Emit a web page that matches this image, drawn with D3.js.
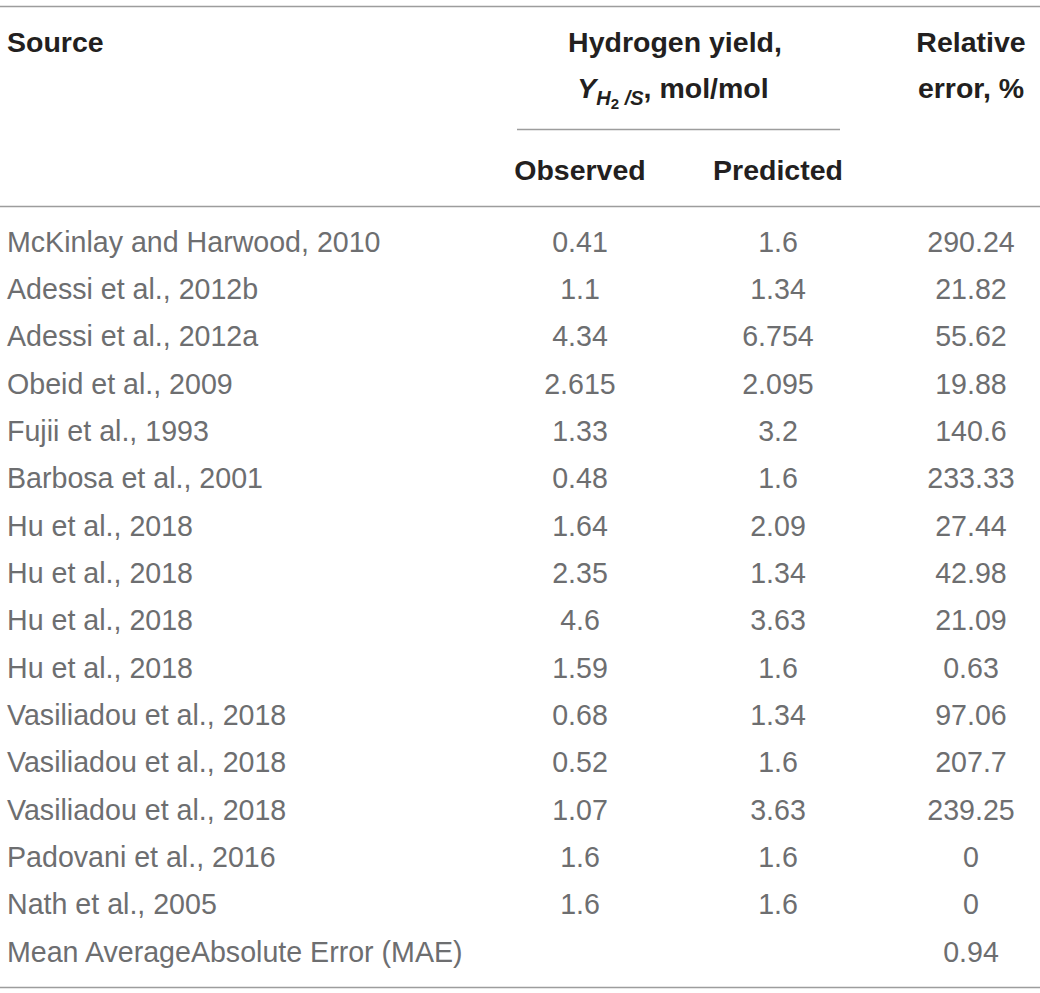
<!DOCTYPE html>
<html>
<head>
<meta charset="utf-8">
<style>
  body { margin: 0; background: #fff; }
  svg { display: block; }
  .hd { font-family: "Liberation Sans", Arial, sans-serif; font-weight: bold; fill: #231f20; font-size: 28.5px; }
  .bd { font-family: "Liberation Sans", Arial, sans-serif; fill: #6d6e70; font-size: 28.6px; }
</style>
</head>
<body>
<div id="chart"></div>
<script src="https://cdnjs.cloudflare.com/ajax/libs/d3/7.8.5/d3.min.js"></script>
<script>
var sources = [
  "McKinlay and Harwood, 2010", "Adessi et al., 2012b", "Adessi et al., 2012a",
  "Obeid et al., 2009", "Fujii et al., 1993", "Barbosa et al., 2001",
  "Hu et al., 2018", "Hu et al., 2018", "Hu et al., 2018", "Hu et al., 2018",
  "Vasiliadou et al., 2018", "Vasiliadou et al., 2018", "Vasiliadou et al., 2018",
  "Padovani et al., 2016", "Nath et al., 2005", "Mean AverageAbsolute Error (MAE)"
];
var observed = ["0.41", "1.1", "4.34", "2.615", "1.33", "0.48", "1.64", "2.35", "4.6", "1.59", "0.68", "0.52", "1.07", "1.6", "1.6", ""];
var predicted = ["1.6", "1.34", "6.754", "2.095", "3.2", "1.6", "2.09", "1.34", "3.63", "1.6", "1.34", "1.6", "3.63", "1.6", "1.6", ""];
var relError = ["290.24", "21.82", "55.62", "19.88", "140.6", "233.33", "27.44", "42.98", "21.09", "0.63", "97.06", "207.7", "239.25", "0", "0", "0.94"];

var W = 1040, H = 993;
var svg = d3.select("#chart").append("svg").attr("width", W).attr("height", H);

// column centres
var col = d3.scaleOrdinal()
  .domain(["observed", "predicted", "error"])
  .range([580, 778, 971]);

// row baselines
var y = d3.scaleLinear().domain([0, sources.length - 1]).range([251.5, 961.5]);

// rules
var rule = function(x1, x2, yy) {
  svg.append("line").attr("x1", x1).attr("x2", x2).attr("y1", yy).attr("y2", yy)
    .attr("stroke", "#9d9d9d").attr("stroke-width", 1.5);
};
rule(0, W, 6.5);
rule(517, 840, 129.5);
rule(0, W, 206.5);
rule(0, W, 987.5);

// header
svg.append("text").attr("class", "hd").attr("x", 7).attr("y", 52).text("Source");
svg.append("text").attr("class", "hd").attr("x", 675).attr("y", 52)
  .attr("text-anchor", "middle").text("Hydrogen yield,");
var yl = svg.append("text").attr("class", "hd").attr("x", 673).attr("y", 98)
  .attr("text-anchor", "middle");
yl.append("tspan").attr("font-style", "italic").text("Y");
yl.append("tspan").attr("font-style", "italic").attr("font-size", "20px").attr("dy", 7).text("H");
yl.append("tspan").attr("font-size", "15px").attr("dy", 4).text("2");
yl.append("tspan").attr("font-style", "italic").attr("font-size", "20px").attr("dy", -4).text(" /S");
yl.append("tspan").attr("dy", -7).text(", mol/mol");
svg.append("text").attr("class", "hd").attr("x", col("error")).attr("y", 52)
  .attr("text-anchor", "middle").text("Relative");
svg.append("text").attr("class", "hd").attr("x", col("error")).attr("y", 98)
  .attr("text-anchor", "middle").text("error, %");
svg.append("text").attr("class", "hd").attr("x", col("observed")).attr("y", 180)
  .attr("text-anchor", "middle").text("Observed");
svg.append("text").attr("class", "hd").attr("x", col("predicted")).attr("y", 180)
  .attr("text-anchor", "middle").text("Predicted");

// body
var rows = svg.selectAll("g.row").data(sources).enter().append("g").attr("class", "row")
  .attr("transform", function(d, i) { return "translate(0," + y(i) + ")"; });
rows.append("text").attr("class", "bd").attr("x", 7).text(function(d) { return d; });
rows.append("text").attr("class", "bd").attr("x", col("observed")).attr("text-anchor", "middle")
  .text(function(d, i) { return observed[i]; });
rows.append("text").attr("class", "bd").attr("x", col("predicted")).attr("text-anchor", "middle")
  .text(function(d, i) { return predicted[i]; });
rows.append("text").attr("class", "bd").attr("x", col("error")).attr("text-anchor", "middle")
  .text(function(d, i) { return relError[i]; });
</script>
</body>
</html>
